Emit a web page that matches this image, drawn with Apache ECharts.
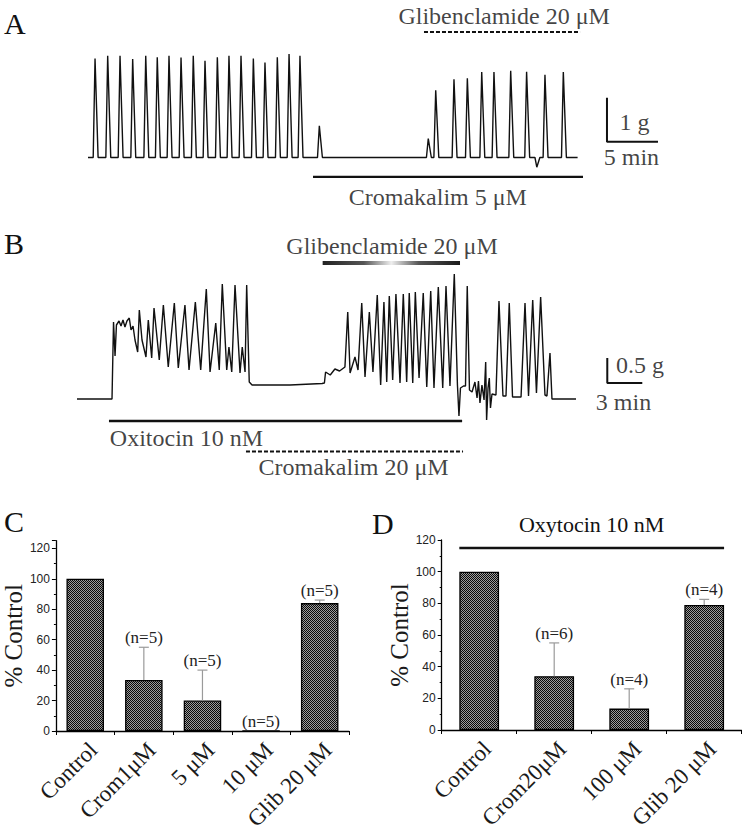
<!DOCTYPE html>
<html><head><meta charset="utf-8">
<script src="https://cdn.jsdelivr.net/npm/echarts@6/dist/echarts.min.js"></script>
<style>html,body{margin:0;padding:0;background:#fff}#c{width:742px;height:833px}</style>
</head><body><div id="c"></div>
<script>
// ===== Panel A: contraction peaks (time in min, tension in g) =====
const peakTimesA = [0.69,1.93,3.14,4.38,5.66,6.79,7.94,9.12,10.32,11.47,12.68,13.82,15.0,16.21,17.35,18.56,19.71,20.78,22.68,33.36,34.09,35.88,37.19,38.6,39.8,41.44,43.0,44.0,44.8,46.6];
const peakHeightsA = [2.25,2.31,2.31,2.24,2.31,2.28,2.31,2.27,2.31,2.2,2.28,2.31,2.31,2.25,2.16,2.28,2.35,2.31,0.72,0.43,1.53,1.78,1.8,1.94,1.94,1.97,1.95,-0.22,1.88,1.94];
const traceRangeA = [0, 48.0];
const glibBarA = [[32.94, 2.85], [48.24, 2.85]];
const cromBarA = [[22.06, -0.44], [48.53, -0.44]];
const scaleBarA = [[50.88, 1.36], [50.88, 0.36], [55.88, 0.36]];
const textsA = [
  ['Glibenclamide 20 μM', 40.8, 3.22],
  ['Cromakalim 5 μM', 34.3, -0.89],
  ['1 g', 53.58, 0.81],
  ['5 min', 53.28, 0.01]
];

// ===== Panel B: trace vertices [time min, tension g] =====
const traceB = [[0,0],[3.0,0],[3.13,1.54],[3.26,0.86],[3.38,1.48],[3.6,1.56],[3.77,1.46],[3.94,1.58],[4.11,1.44],[4.28,1.56],[4.48,1.62],[4.63,1.38],[4.8,1.46],[4.97,1.18],[5.2,0.94],[5.34,1.78],[5.57,1.18],[5.91,0.84],[6.11,1.58],[6.4,0.82],[6.6,1.82],[7.05,0.78],[7.4,1.88],[7.82,0.64],[8.34,1.92],[8.68,0.62],[9.25,1.88],[9.6,0.58],[10.14,1.94],[10.6,0.58],[11.08,2.2],[11.4,0.54],[11.89,1.52],[12.19,0.58],[12.45,2.3],[12.83,0.58],[13.02,1.04],[13.26,0.54],[13.54,2.28],[13.97,0.52],[14.16,1.04],[14.4,0.54],[14.54,2.28],[14.76,0.34],[15.0,0.28],[18.25,0.28],[21.0,0.31],[21.2,0.32],[21.3,0.54],[21.7,0.48],[22.1,0.6],[22.5,0.56],[22.96,0.64],[23.2,1.74],[23.4,0.52],[23.82,0.84],[24.08,0.58],[24.4,1.92],[24.68,0.44],[25.05,1.74],[25.36,0.54],[25.73,2.08],[26.02,0.28],[26.3,1.94],[26.54,0.34],[26.76,2.06],[27.05,0.38],[27.33,2.1],[27.68,0.32],[27.96,2.1],[28.25,0.34],[28.47,2.12],[28.77,0.32],[28.99,2.14],[29.31,0.42],[29.67,2.12],[29.97,0.24],[30.31,2.16],[30.59,0.22],[30.96,2.24],[31.34,0.22],[31.62,2.26],[31.96,0.26],[32.33,2.5],[32.6,0.28],[32.73,-0.34],[32.86,0.22],[33.12,0.26],[33.29,0.26],[33.44,2.26],[33.63,0.18],[33.85,0.14],[34.1,0.34],[34.28,0.02],[34.4,0.36],[34.53,-0.08],[34.7,0.28],[34.88,-0.02],[35.02,0.74],[35.1,-0.42],[35.22,0.22],[35.33,0.42],[35.43,-0.18],[35.56,0.1],[35.9,0.08],[36.16,1.96],[36.5,0.06],[36.76,0.06],[37.04,1.92],[37.32,0.04],[38.05,0.04],[38.39,1.92],[38.69,0.06],[39.05,1.98],[39.37,0.12],[39.73,2.04],[40.1,0.08],[40.27,0.06],[40.53,0.92],[40.7,0],[42.76,0]];
const glibBarB = [[21.05, 2.72], [32.82, 2.72]];
const oxiBarB = [[2.74, -0.44], [33.0, -0.44]];
const cromBarB = [[14.48, -1.05], [33.08, -1.05]];
const scaleBarB = [[45.44, 0.82], [45.44, 0.32], [48.44, 0.32]];
const textsB = [
  ['Glibenclamide 20 μM', 27.0, 3.06],
  ['Oxitocin 10 nM', 9.38, -0.78],
  ['Cromakalim 20 μM', 23.7, -1.36],
  ['0.5 g', 48.24, 0.68],
  ['3 min', 46.83, -0.06]
];

// ===== Panel C =====
const catsC = ['Control', 'Crom1μM', '5 μM', '10 μM', 'Glib 20 μM'];
const meanC = [100, 33.5, 20, 0, 84];
const errC = [0, 21.5, 20, 0, 2];
const nC = ['', '(n=5)', '(n=5)', '(n=5)', '(n=5)'];

// ===== Panel D =====
const catsD = ['Control', 'Crom20μM', '100 μM', 'Glib 20 μM'];
const meanD = [100, 34, 13.5, 79];
const errD = [0, 21, 12.5, 3.5];
const nD = ['', '(n=6)', '(n=4)', '(n=4)'];
const oxyBarD = {from: 0, to: 3, level: 115, text: 'Oxytocin 10 nM'};

// ---------- build ----------
const SERIF = '"Liberation Serif","Times New Roman",serif';
const SANS = '"Liberation Sans",Arial,sans-serif';
const INK = '#111';

const traceA = [[traceRangeA[0], 0]];
peakTimesA.forEach((t, i) => {
  const h = peakHeightsA[i];
  traceA.push([t - 0.18, 0], [t, h], [t + 0.3, 0]);
});
traceA.push([traceRangeA[1], 0]);

const pc = document.createElement('canvas');
pc.width = 2; pc.height = 2;
const g2 = pc.getContext('2d');
g2.fillStyle = '#9c9c9c'; g2.fillRect(0, 0, 2, 2);
g2.fillStyle = '#080808'; g2.fillRect(0, 0, 1, 1); g2.fillRect(1, 1, 1, 1);
const checker = {image: pc, repeat: 'repeat', imageWidth: 2, imageHeight: 2};

// pixel scales of the trace panels (layout)
const pxA = {left: 88, zeroY: 157.5, perMin: 10.2, perG: 44, xMax: 60, yMin: -1.2, yMax: 3.5};
const pxB = {left: 77, zeroY: 399, perMin: 11.67, perG: 50, xMax: 55, yMin: -1.6, yMax: 3.4};
function traceGrid(p) {
  return {left: p.left, top: p.zeroY - p.yMax * p.perG, width: p.xMax * p.perMin, height: (p.yMax - p.yMin) * p.perG};
}

function lineSeries(idx, data, style) {
  return {type: 'line', xAxisIndex: idx, yAxisIndex: idx, data: data, showSymbol: false, symbol: 'none',
    silent: true, animation: false, clip: false, lineStyle: Object.assign({color: INK, width: 2.2}, style)};
}
function textSeries(idx, texts, size) {
  return {type: 'scatter', xAxisIndex: idx, yAxisIndex: idx, symbolSize: 1, silent: true,
    itemStyle: {color: 'transparent'},
    data: texts.map(t => ({value: [t[1], t[2]], label: {formatter: t[0]}})),
    label: {show: true, position: 'inside', fontFamily: SERIF, fontSize: size, color: INK}};
}

function errRender(nArr) {
  return function (params, api) {
    const i = api.value(0), m = api.value(1), e = api.value(2);
    const base = api.coord([i, m]);
    const top = api.coord([i, m + e]);
    const ch = [];
    if (e > 0) {
      ch.push({type: 'line', shape: {x1: base[0], y1: base[1], x2: top[0], y2: top[1]}, style: {stroke: '#9a9a9a', lineWidth: 1.2}});
      ch.push({type: 'line', shape: {x1: top[0] - 5, y1: top[1], x2: top[0] + 5, y2: top[1]}, style: {stroke: '#9a9a9a', lineWidth: 1.2}});
    }
    const lab = nArr[params.dataIndex];
    if (lab) ch.push({type: 'text', x: top[0], y: top[1] - 1, style: {text: lab, align: 'center', verticalAlign: 'bottom', fontFamily: SERIF, fontSize: 17, fill: '#222'}});
    return {type: 'group', children: ch};
  };
}

function barXAxis(idx, cats) {
  return {type: 'category', gridIndex: idx, data: cats,
    axisLine: {lineStyle: {color: '#000', width: 1.3}},
    axisTick: {show: true, length: 4, lineStyle: {color: '#000'}},
    axisLabel: {interval: 0, rotate: 45, margin: 7, verticalAlign: 'top', fontFamily: SERIF, fontSize: 23, color: '#1a1a1a'}};
}
function barYAxis(idx, max) {
  return {type: 'value', gridIndex: idx, min: 0, max: max, interval: 20,
    name: '% Control', nameLocation: 'middle', nameGap: 26,
    nameTextStyle: {fontFamily: SERIF, fontSize: 25, color: '#1a1a1a'},
    axisLine: {show: true, lineStyle: {color: '#000', width: 1.3}},
    axisTick: {show: true, length: 4, lineStyle: {color: '#000'}},
    minorTick: {show: true, splitNumber: 2, length: 2, lineStyle: {color: '#000'}},
    splitLine: {show: false},
    axisLabel: {fontFamily: SANS, fontSize: 12, color: '#222', margin: 6, showMaxLabel: max === 120}};
}

const option = {
  animation: false,
  backgroundColor: '#fff',
  grid: [
    traceGrid(pxA),
    traceGrid(pxB),
    {left: 50, top: 540.7, width: 299, height: 190.3},
    {left: 441.7, top: 540, width: 300, height: 190}
  ],
  xAxis: [
    {type: 'value', gridIndex: 0, min: 0, max: pxA.xMax, show: false},
    {type: 'value', gridIndex: 1, min: 0, max: pxB.xMax, show: false},
    barXAxis(2, catsC),
    barXAxis(3, catsD)
  ],
  yAxis: [
    {type: 'value', gridIndex: 0, min: pxA.yMin, max: pxA.yMax, show: false},
    {type: 'value', gridIndex: 1, min: pxB.yMin, max: pxB.yMax, show: false},
    barYAxis(2, 125),
    barYAxis(3, 120)
  ],
  graphic: [
    {type: 'text', left: 4, top: 8, style: {text: 'A', fontFamily: SERIF, fontSize: 30, fill: INK}},
    {type: 'text', left: 4, top: 228, style: {text: 'B', fontFamily: SERIF, fontSize: 30, fill: INK}},
    {type: 'text', left: 4, top: 506, style: {text: 'C', fontFamily: SERIF, fontSize: 30, fill: INK}},
    {type: 'text', left: 372, top: 508, style: {text: 'D', fontFamily: SERIF, fontSize: 30, fill: INK}}
  ],
  series: [
    // Panel A
    lineSeries(0, traceA, {width: 1.4, color: '#111'}),
    lineSeries(0, glibBarA, {width: 2, type: [4, 2]}),
    lineSeries(0, cromBarA, {width: 2.2}),
    lineSeries(0, scaleBarA, {width: 2}),
    textSeries(0, textsA, 24),
    // Panel B
    lineSeries(1, traceB, {width: 1.4, color: '#111'}),
    {type: 'custom', xAxisIndex: 1, yAxisIndex: 1, silent: true, data: [[glibBarB[0][0], glibBarB[1][0], glibBarB[0][1]]],
      renderItem: function (params, api) {
        const a = api.coord([api.value(0), api.value(2)]);
        const b = api.coord([api.value(1), api.value(2)]);
        return {type: 'rect', shape: {x: a[0], y: a[1] - 2, width: b[0] - a[0], height: 4},
          style: {fill: new echarts.graphic.LinearGradient(0, 0, 1, 0, [
            {offset: 0, color: '#222'}, {offset: 0.3, color: '#555'}, {offset: 0.5, color: '#eeeeee'},
            {offset: 0.7, color: '#555'}, {offset: 1, color: '#1a1a1a'}])}};
      }},
    lineSeries(1, oxiBarB, {width: 2.5}),
    lineSeries(1, cromBarB, {width: 2, type: [4, 2]}),
    lineSeries(1, scaleBarB, {width: 2}),
    textSeries(1, textsB, 24),
    // Panel C
    {type: 'bar', xAxisIndex: 2, yAxisIndex: 2, data: meanC, barWidth: '64%',
      itemStyle: {color: checker, borderColor: '#000', borderWidth: 1.3}},
    {type: 'custom', xAxisIndex: 2, yAxisIndex: 2, z: 5, data: meanC.map((m, i) => [i, m, errC[i]]), renderItem: errRender(nC)},
    // Panel D
    {type: 'bar', xAxisIndex: 3, yAxisIndex: 3, data: meanD, barWidth: '53%',
      itemStyle: {color: checker, borderColor: '#000', borderWidth: 1.3}},
    {type: 'custom', xAxisIndex: 3, yAxisIndex: 3, z: 5, data: meanD.map((m, i) => [i, m, errD[i]]), renderItem: errRender(nD)},
    {type: 'custom', xAxisIndex: 3, yAxisIndex: 3, z: 5, data: [[oxyBarD.from, oxyBarD.to, oxyBarD.level]],
      renderItem: function (params, api) {
        const half = api.size([1, 0])[0] * 0.265;
        const a = api.coord([api.value(0), api.value(2)]);
        const b = api.coord([api.value(1), api.value(2)]);
        return {type: 'group', children: [
          {type: 'line', shape: {x1: a[0] - half, y1: a[1], x2: b[0] + half, y2: b[1]}, style: {stroke: INK, lineWidth: 2.5}},
          {type: 'text', x: (a[0] + b[0]) / 2, y: a[1] - 12, style: {text: oxyBarD.text, align: 'center', verticalAlign: 'bottom', fontFamily: SERIF, fontSize: 22, fill: INK}}
        ]};
      }}
  ]
};

const chart = echarts.init(document.getElementById('c'), null, {renderer: 'svg'});
chart.setOption(option);
</script>
</body></html>
